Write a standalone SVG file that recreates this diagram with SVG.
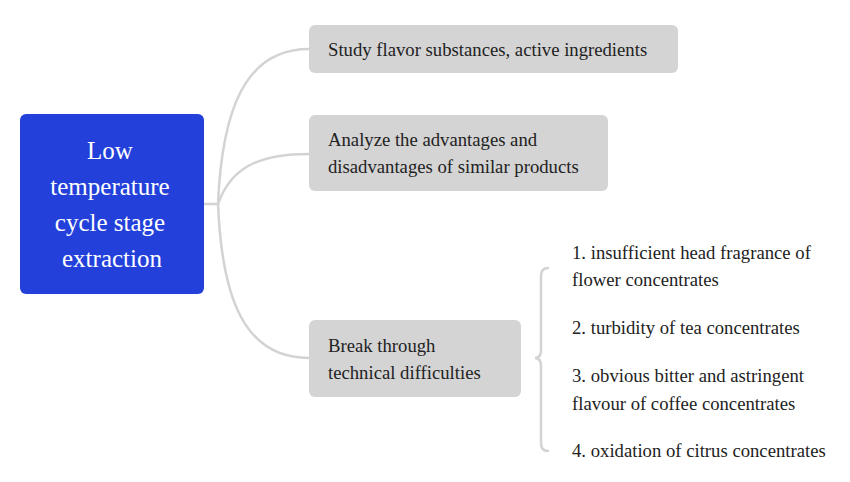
<svg xmlns="http://www.w3.org/2000/svg" width="850" height="482" viewBox="0 0 850 482">
<defs>
<style>
.conn{fill:none;stroke:#d3d3d3;stroke-width:2.5;stroke-linecap:round}
.sub{fill:#d4d4d4}
</style>
</defs>
<rect width="850" height="482" fill="#fff"/>
<g id="connectors">
<path class="conn" d="M204 204 L218 204"/>
<path class="conn" d="M218 204 C222 110, 245 49, 309 49"/>
<path class="conn" d="M218 204 C230 170, 255 154, 309 154"/>
<path class="conn" d="M218 204 C222 300, 245 358, 309 358"/>
<path class="conn" d="M548 268 Q541 268 541 276 L541 350 Q541 358 535 358 Q541 358 541 366 L541 443 Q541 451 548 451"/>
</g>
<g id="root">
<rect x="20" y="114" width="184" height="180" rx="6" fill="#2341da"/>
<text font-family="Liberation Serif" font-size="25" fill="#fff" text-anchor="middle" x="110" y="159">Low</text>
<text font-family="Liberation Serif" font-size="25" fill="#fff" text-anchor="middle" x="110" y="195">temperature</text>
<text font-family="Liberation Serif" font-size="25" fill="#fff" text-anchor="middle" x="110" y="231">cycle stage</text>
<text font-family="Liberation Serif" font-size="25" fill="#fff" text-anchor="middle" x="112" y="267">extraction</text>
</g>
<g id="n1">
<rect class="sub" x="309" y="25" width="369" height="48" rx="6"/>
<text font-family="Liberation Serif" font-size="18.7" fill="#222" x="328" y="56">Study flavor substances, active ingredients</text>
</g>
<g id="n2">
<rect class="sub" x="309" y="115" width="299" height="76" rx="6"/>
<text font-family="Liberation Serif" font-size="18.7" fill="#222" x="328" y="146">Analyze the advantages and</text>
<text font-family="Liberation Serif" font-size="18.7" fill="#222" x="328" y="173">disadvantages of similar products</text>
</g>
<g id="n3">
<rect class="sub" x="309" y="320" width="212" height="77" rx="6"/>
<text font-family="Liberation Serif" font-size="18.7" fill="#222" x="328" y="352">Break through</text>
<text font-family="Liberation Serif" font-size="18.7" fill="#222" x="328" y="379">technical difficulties</text>
</g>
<g id="leaf1">
<text font-family="Liberation Serif" font-size="18.7" fill="#222" x="572" y="259">1. insufficient head fragrance of</text>
<text font-family="Liberation Serif" font-size="18.7" fill="#222" x="572" y="286">flower concentrates</text>
</g>
<g id="leaf2">
<text font-family="Liberation Serif" font-size="18.7" fill="#222" x="572" y="334">2. turbidity of tea concentrates</text>
</g>
<g id="leaf3">
<text font-family="Liberation Serif" font-size="18.7" fill="#222" x="572" y="382">3. obvious bitter and astringent</text>
<text font-family="Liberation Serif" font-size="18.7" fill="#222" x="572" y="410">flavour of coffee concentrates</text>
</g>
<g id="leaf4">
<text font-family="Liberation Serif" font-size="18.7" fill="#222" x="572" y="457">4. oxidation of citrus concentrates</text>
</g>
</svg>
